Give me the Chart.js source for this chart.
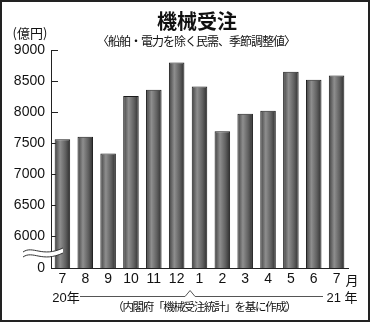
<!DOCTYPE html>
<html><head><meta charset="utf-8">
<script src="https://cdn.jsdelivr.net/npm/chart.js@4"></script>
<style>
html,body{margin:0;padding:0;background:#fff;}
#box{position:relative;width:370px;height:322px;overflow:hidden;}
#c{position:absolute;left:0;top:0;}
#frame{position:absolute;left:0;top:0;width:370px;height:322px;box-sizing:border-box;border:2px solid #222;pointer-events:none;}
.t{position:absolute;white-space:nowrap;color:#111;line-height:1;transform:translate(-50%,-50%);font-family:"Liberation Sans","Noto Sans CJK JP",sans-serif;}
.jp{font-family:"Noto Sans CJK JP",sans-serif;}
</style>
</head><body>
<div id="box">
  <canvas id="c" width="370" height="322"></canvas>
  <div class="t jp" style="left:197px;top:21px;font-size:20px;font-weight:700;">機械受注</div>
  <div class="t jp" style="left:196px;top:41px;font-size:12px;letter-spacing:-1px;">〈船舶・電力を除く民需、季節調整値〉</div>
  <div class="t jp" style="left:30px;top:32px;font-size:13px;">(億円)</div>
  <div class="t jp" style="left:352px;top:279px;font-size:13px;">月</div>
  <div class="t" style="left:66px;top:297px;font-size:13px;">20年</div>
  <div class="t" style="left:342px;top:297px;font-size:13px;">21 年</div>
  <div class="t jp" style="left:204px;top:307px;font-size:11.5px;letter-spacing:-1.3px;">（内閣府「機械受注統計」を基に作成）</div>
  <div id="frame"></div>
</div>
<script>
// ─── Data ───
const months = ['7','8','9','10','11','12','1','2','3','4','5','6','7'];
const orders = [7560, 7600, 7330, 8260, 8360, 8800, 8410, 7690, 7970, 8020, 8650, 8520, 8590];
const yTicks = [6000, 6500, 7000, 7500, 8000, 8500, 9000];
const Y_MAX  = 9000;
const Y_ZERO = 5484;   // where the broken axis puts "0"

const INK = '#222';
const BAR_PCT = 0.68;

// ─── Bar shading + axis decorations ───
const decor = {
  id: 'decor',
  beforeDatasetsDraw(chart) {
    const { ctx, chartArea: a, scales: { y } } = chart;
    // cylinder-like shading on each bar
    chart.getDatasetMeta(0).data.forEach(el => {
      const half = el.width / 2;
      const g = ctx.createLinearGradient(el.x - half, 0, el.x + half, 0);
      g.addColorStop(0, '#404040');
      g.addColorStop(0.35, '#8e8e8e');
      g.addColorStop(0.7, '#606060');
      g.addColorStop(1, '#2e2e2e');
      el.options.backgroundColor = g;
    });
    // inner tick marks
    ctx.save();
    ctx.strokeStyle = INK;
    ctx.lineWidth = 1;
    yTicks.forEach(v => {
      const py = Math.round(y.getPixelForValue(v)) + 0.5;
      ctx.beginPath(); ctx.moveTo(a.left, py); ctx.lineTo(a.left + 7, py); ctx.stroke();
    });
    ctx.restore();
  },
  afterDraw(chart) {
    const { ctx, scales: { x } } = chart;
    ctx.save();
    // year bracket with caret between Dec and Jan
    const mid = (x.getPixelForValue(5) + x.getPixelForValue(6)) / 2 + 2;
    ctx.strokeStyle = '#555';
    ctx.lineWidth = 1;
    ctx.beginPath();
    ctx.moveTo(80, 296.5); ctx.lineTo(mid - 5, 296.5);
    ctx.lineTo(mid, 290.5); ctx.lineTo(mid + 5, 296.5);
    ctx.lineTo(323, 296.5);
    ctx.stroke();

    // axis break (double wave)
    const wave = (dy) => {
      ctx.moveTo(23, 252 + dy);
      ctx.bezierCurveTo(33, 245 + dy, 42, 258 + dy, 63, 248 + dy);
    };
    ctx.beginPath();
    wave(0);
    ctx.lineTo(63, 253);
    ctx.bezierCurveTo(42, 263, 33, 250, 23, 257);
    ctx.closePath();
    ctx.fillStyle = '#fff';
    ctx.fill();
    ctx.strokeStyle = '#333';
    ctx.beginPath(); wave(0); ctx.stroke();
    ctx.beginPath(); wave(5); ctx.stroke();
    ctx.restore();
  }
};

new Chart(document.getElementById('c').getContext('2d'), {
  type: 'bar',
  data: {
    labels: months,
    datasets: [{
      data: orders,
      // scriptable so every bar gets its own options object (shading set per bar above)
      backgroundColor: () => '#666',
      borderColor: '#1a1a1a',
      borderWidth: 1,
      borderSkipped: 'bottom',
      barPercentage: BAR_PCT,
      categoryPercentage: 1,
    }],
  },
  options: {
    responsive: false,
    animation: false,
    events: [],
    layout: { padding: { top: 50, right: 22, bottom: 0, left: 0 } },
    plugins: { legend: { display: false }, tooltip: { enabled: false } },
    scales: {
      x: {
        grid: { display: false, drawTicks: false },
        border: { color: INK, width: 1 },
        ticks: { color: '#111', padding: 3, maxRotation: 0, autoSkip: false,
                 font: { family: 'Liberation Sans', size: 14 } },
        afterFit: s => { s.height = 54; },
      },
      y: {
        min: Y_ZERO, max: Y_MAX,
        grid: { display: false, drawTicks: false },
        border: { color: INK, width: 1 },
        afterBuildTicks: s => { s.ticks = [Y_ZERO, ...yTicks].map(v => ({ value: v })); },
        ticks: { color: '#111', padding: 6,
                 font: { family: 'Liberation Sans', size: 14 },
                 callback: v => v === Y_ZERO ? '0' : String(v) },
        afterFit: s => { s.width = 51; },
      },
    },
  },
  plugins: [decor],
});
</script>
</body></html>
